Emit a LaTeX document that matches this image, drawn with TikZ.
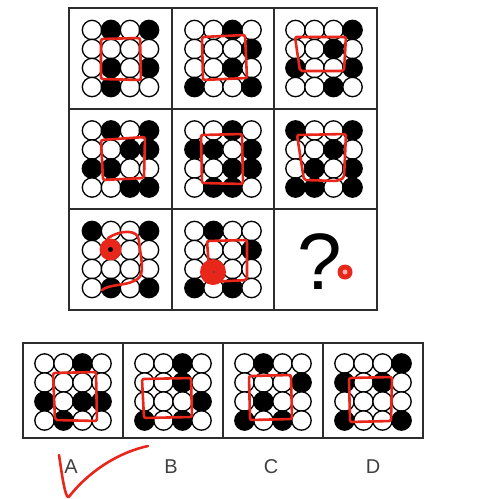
\documentclass[tikz,border=0pt]{standalone}
\usepackage{fontspec}
\setmainfont{Liberation Sans}
\definecolor{pzred}{RGB}{232,38,26}
\definecolor{pzframe}{RGB}{45,45,45}

% one 4x4 block of dots: centre x, centre y, rows (1 = black)
\newcommand{\dotgrid}[3]{%
  \foreach \rowvals [count=\j] in {#3} {
    \foreach \v [count=\i] in \rowvals {
      \ifnum\v=1 \def\dotfill{black}\else \def\dotfill{white}\fi
      \draw[dot, fill=\dotfill] (#1+19*\i-47.5, #2+19*\j-47.5) circle[radius=9.7];
    }
  }}

\begin{document}
\begin{tikzpicture}[
    x=1pt, y=-1pt,
    frame/.style={draw=pzframe, line width=1.4pt},
    dot/.style={draw=black, line width=1.3pt},
    redmark/.style={draw=pzred, line width=2.6pt, line cap=round, line join=round, rounded corners=2pt},
    blob/.style={fill=pzred},
    letter/.style={font=\fontsize{20}{20}\selectfont, text=black!75},
  ]
  \useasboundingbox (0,0) rectangle (485,499);

  % the 3x3 puzzle
  \draw[frame] (69,8) rectangle (377,310);
  \draw[frame] (172,8) -- (172,310) (274,8) -- (274,310);
  \draw[frame] (69,109) -- (377,109) (69,209) -- (377,209);

  \dotgrid{120.5}{58.5}{{0,1,0,1},{0,0,0,0},{0,1,0,1},{0,1,0,0}}
  \dotgrid{223}{58.5}{{0,0,1,0},{0,0,0,1},{0,0,1,0},{1,0,0,1}}
  \dotgrid{324}{58.5}{{0,0,0,1},{0,0,1,0},{1,0,0,1},{0,0,1,0}}
  \dotgrid{120.5}{159}{{0,1,0,1},{0,0,1,1},{1,1,0,0},{0,0,1,1}}
  \dotgrid{223}{159}{{0,0,1,0},{1,1,0,1},{0,0,1,1},{0,1,1,0}}
  \dotgrid{324}{159}{{1,0,0,1},{0,0,1,0},{0,1,0,1},{1,1,0,1}}
  \dotgrid{120.5}{259.5}{{1,0,0,1},{0,1,0,0},{0,0,0,0},{0,1,0,1}}
  \dotgrid{223}{259.5}{{0,1,0,0},{0,0,0,1},{0,0,0,0},{1,0,1,0}}

  % red marks in the puzzle
  \draw[redmark] (101,39) -- (140,38) -- (141,80) -- (101,79) -- cycle;
  \draw[redmark] (202,37) -- (245,35) -- (247,78) -- (203,80) -- cycle;
  \draw[redmark] (295,37) -- (346,37) -- (344,71) -- (300,71) -- cycle;
  \draw[redmark] (101,140) -- (145,137) -- (144,178) -- (103,180) -- cycle;
  \draw[redmark] (201,135) -- (242,134) -- (243,184) -- (202,183) -- cycle;
  \draw[redmark] (297,135) -- (346,134) -- (344,178) -- (337,181) -- (304,180) -- cycle;
  \draw[redmark] (207,241) -- (247,240) -- (247,280) -- (210,282) -- cycle;

  \fill[blob] (110.5,249.5) circle[radius=11];
  \fill[black] (110.5,249.5) circle[radius=2.5];
  \draw[redmark] (108,238) .. controls (120,230) and (138,229) .. (139,242)
    .. controls (141,258) and (145,274) .. (136,280)
    .. controls (124,286) and (110,284) .. (102,290);

  \fill[blob] (213,272) circle[radius=13];
  \fill[black!70] (214,272) circle[radius=1.2];

  \node[font=\fontsize{80}{80}\selectfont] (qmark) at (320,262) {?};
  \fill[blob] (345,272) circle[radius=7.5];
  \fill[pzred!35] (345,272) circle[radius=2.5];

  % the four choices
  \draw[frame] (23,343) rectangle (423,438);
  \draw[frame] (123,343) -- (123,438) (223,343) -- (223,438) (323,343) -- (323,438);

  \dotgrid{73}{392}{{0,0,1,0},{0,0,0,0},{1,0,1,1},{0,1,0,0}}
  \dotgrid{173}{392}{{0,0,1,0},{0,0,1,0},{0,0,0,1},{1,0,1,0}}
  \dotgrid{273}{392}{{0,1,0,0},{0,0,0,1},{0,1,0,0},{1,0,1,0}}
  \dotgrid{373}{392}{{0,0,0,1},{1,0,1,0},{0,0,0,0},{1,0,0,1}}

  \draw[redmark] (53,373) -- (96,372) -- (97,421) -- (55,420) -- cycle;
  \draw[redmark] (142,379) -- (191,378) -- (192,417) -- (144,418) -- cycle;
  \draw[redmark] (249,376) -- (291,375) -- (292,419) -- (250,420) -- cycle;
  \draw[redmark] (349,378) -- (392,377) -- (391,421) -- (350,422) -- cycle;

  \node[letter] (labA) at (71,467) {A};
  \node[letter] (labB) at (171,467) {B};
  \node[letter] (labC) at (271,467) {C};
  \node[letter] (labD) at (373,467) {D};

  % the tick
  \draw[redmark] (59,455) .. controls (62,475) and (64,490) .. (68,498)
    .. controls (90,470) and (120,452) .. (148,446);

\end{tikzpicture}
\end{document}
